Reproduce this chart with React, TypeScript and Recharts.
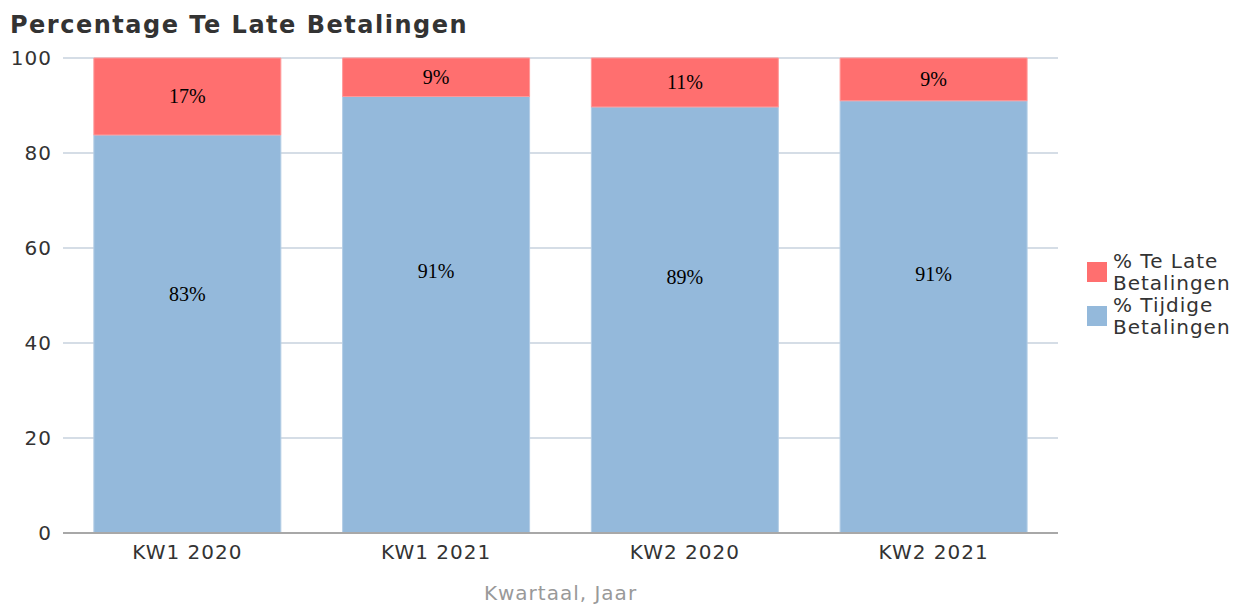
import { BarChart, Bar, XAxis, YAxis, CartesianGrid, Legend, LabelList } from 'recharts';

const kwartalen = ['KW1 2020', 'KW1 2021', 'KW2 2020', 'KW2 2021'];
const tijdig = [83.8, 91.9, 89.7, 91.0];
const teLaat = [16.2, 8.1, 10.3, 9.0];
const tijdigLabels = ['83%', '91%', '89%', '91%'];
const teLaatLabels = ['17%', '9%', '11%', '9%'];
const yTicks = [0, 20, 40, 60, 80, 100];

const data = kwartalen.map((name, i) => ({
  name,
  tijdig: tijdig[i],
  laat: teLaat[i],
  tijdigLabel: tijdigLabels[i],
  laatLabel: teLaatLabels[i],
}));

const sans = '"DejaVu Sans", Verdana, sans-serif';

// labels in the original sit a bit above the middle of the blue block
const segmentLabel = (pos: number) => (p: any) => (
  <text
    x={p.x + p.width / 2}
    y={p.y + p.height * pos}
    dy="0.35em"
    textAnchor="middle"
    fill="#000"
    fontFamily='"Liberation Serif", "Times New Roman", serif'
    fontSize={20}
  >
    {p.value}
  </text>
);

const LegendBox = (props: any) => {
  const items = props.payload || [];
  return (
    <div style={{ width: 180, paddingLeft: 29, boxSizing: 'border-box', fontFamily: sans, fontSize: 20, letterSpacing: 1, color: '#333' }}>
      {items.map((it: any) => (
        <div key={it.value} style={{ display: 'flex', alignItems: 'center' }}>
          <div style={{ width: 20, height: 20, background: it.color, marginRight: 6, flexShrink: 0 }} />
          <div style={{ width: 125, lineHeight: '22px' }}>{it.value}</div>
        </div>
      ))}
    </div>
  );
};

export default function App() {
  return (
    <div style={{ position: 'relative', width: 1230, height: 599 }}>
      <div
        style={{
          position: 'absolute',
          left: 2,
          top: 5,
          fontFamily: sans,
          fontWeight: 'bold',
          fontSize: 24,
          lineHeight: 1,
          letterSpacing: 1.5,
          color: '#333',
        }}
      >
        Percentage Te Late Betalingen
      </div>
      <BarChart
        width={1230}
        height={599}
        data={data}
        margin={{ top: 50, right: 0, bottom: 0, left: 0 }}
        barCategoryGap="12.4%"
      >
        <CartesianGrid vertical={false} stroke="#d5dde6" strokeWidth={2} />
        <XAxis
          dataKey="name"
          height={74}
          tickLine={false}
          tickSize={0}
          tickMargin={12}
          stroke="#a8a8a8"
          strokeWidth={2}
          tick={{ fill: '#333', fontSize: 20, fontFamily: sans, letterSpacing: 1 }}
          label={{
            value: 'Kwartaal, Jaar',
            position: 'insideBottom',
            offset: 7,
            fill: '#999',
            fontSize: 20,
            fontFamily: sans,
            letterSpacing: 1,
          }}
        />
        <YAxis
          width={55}
          domain={[0, 100]}
          ticks={yTicks}
          axisLine={false}
          tickLine={false}
          tickSize={0}
          tickMargin={11}
          tick={{ fill: '#333', fontSize: 20, fontFamily: sans, letterSpacing: 1 }}
        />
        <Legend
          layout="vertical"
          align="right"
          verticalAlign="top"
          width={180}
          wrapperStyle={{ top: 242 }}
          content={LegendBox}
        />
        <Bar dataKey="tijdig" name="% Tijdige Betalingen" stackId="a" fill="#94b9db" stroke="#b3cde6" strokeWidth={1} isAnimationActive={false}>
          <LabelList dataKey="tijdigLabel" content={segmentLabel(0.4)} />
        </Bar>
        <Bar dataKey="laat" name="% Te Late Betalingen" stackId="a" fill="#ff6f6f" stroke="#ff9a9a" strokeWidth={1} isAnimationActive={false}>
          <LabelList dataKey="laatLabel" content={segmentLabel(0.5)} />
        </Bar>
      </BarChart>
    </div>
  );
}
